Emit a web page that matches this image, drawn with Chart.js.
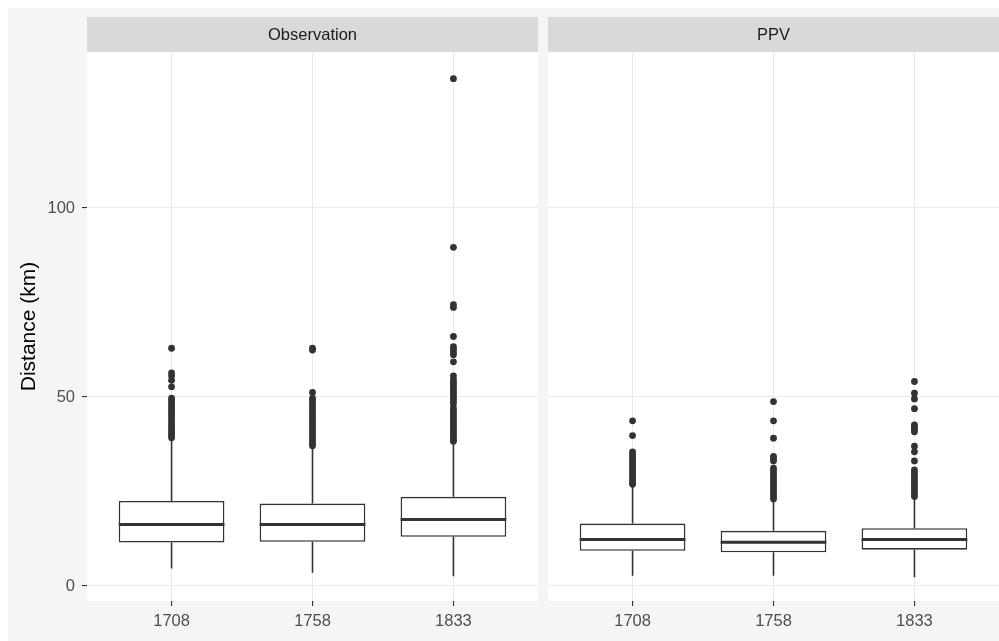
<!DOCTYPE html>
<html>
<head>
<meta charset="utf-8">
<title>Distance by year</title>
<script src="https://cdn.jsdelivr.net/npm/chart.js@4.4.0/dist/chart.umd.min.js"></script>
<style>
    html, body { margin: 0; padding: 0; background: #ffffff; }
    #page { position: relative; width: 999px; height: 641px; overflow: hidden; }
    #plotBg { position: absolute; left: 8px; top: 8px; right: 0; bottom: 0; background: #f5f5f5; }
    #chartObs { position: absolute; left: 0; top: 0; }
    #chartPpv { position: absolute; left: 540px; top: 0; }
</style>
</head>
<body>
<div id="page">
    <div id="plotBg"></div>
    <canvas id="chartObs" width="540" height="641"></canvas>
    <canvas id="chartPpv" width="459" height="641"></canvas>
</div>
<script>
const categories = ['1708', '1758', '1833'];
const panels = ['Observation', 'PPV'];
const yTicks = [0, 50, 100];

// Observation
const obsLow = [4.6, 3.5, 2.6];
const obsQ1 = [11.5, 11.7, 13.0];
const obsMedian = [16.3, 16.3, 17.6];
const obsQ3 = [22.5, 21.8, 23.6];
const obsHigh = [38.8, 36.4, 37.9];
const obsOutliers = [
    [62.9, 56.4, 55.6, 54.4, 52.7, 49.7, 49.0, 48.3, 47.5, 46.8, 46.1, 45.4, 44.7, 43.9, 43.2, 42.5, 41.8, 41.1, 40.4, 39.8, 39.2],
    [62.9, 62.4, 51.2, 49.7, 49.0, 48.3, 47.6, 46.8, 46.1, 45.4, 44.7, 44.0, 43.3, 42.6, 41.9, 41.2, 40.5, 39.8, 39.1, 38.4, 37.7, 37.1],
    [134.2, 89.6, 74.4, 73.7, 66.0, 63.3, 62.6, 61.9, 61.2, 59.3, 55.6, 54.6, 53.9, 53.2, 52.5, 51.8, 51.1, 50.4, 49.7, 49.0, 48.3,
        47.1, 46.4, 45.7, 45.0, 44.3, 43.6, 42.9, 42.2, 41.5, 40.8, 40.1, 39.4, 38.8, 38.3]
];

// PPV
const ppvLow = [2.7, 2.7, 2.3];
const ppvQ1 = [9.3, 8.9, 9.6];
const ppvMedian = [12.3, 11.6, 12.3];
const ppvQ3 = [16.5, 14.6, 15.3];
const ppvHigh = [26.7, 22.5, 23.2];
const ppvOutliers = [
    [43.7, 39.8, 35.5, 34.9, 34.2, 33.5, 32.8, 32.1, 31.4, 30.7, 30.0, 29.3, 28.6, 27.9, 27.3, 26.9],
    [48.8, 43.7, 39.1, 34.3, 33.6, 33.1, 31.2, 30.5, 29.8, 29.1, 28.4, 27.7, 27.0, 26.3, 25.6, 24.9, 24.2, 23.6, 23.0],
    [54.1, 51.0, 49.5, 46.9, 42.6, 42.0, 41.4, 40.8, 37.0, 35.5, 33.1, 30.7, 30.0, 29.3, 28.6, 27.9, 27.2, 26.5, 25.8, 25.1, 24.4, 23.7]
];

const INK = '#333333';
const BOX_HALF = 0.375; // half of ggplot's 0.75 box width, in category units

Chart.defaults.font.family = "'Liberation Sans', Arial, sans-serif";
Chart.defaults.animation = false;

// white panel + grey strip with the facet label
const facetPlugin = {
    id: 'facet_strip',
    beforeDraw: (chart, args, options) => {
        const { ctx, chartArea } = chart;
        ctx.save();
        ctx.fillStyle = '#ffffff';
        ctx.fillRect(chartArea.left, chartArea.top, chartArea.right - chartArea.left, chartArea.bottom - chartArea.top);
        ctx.fillStyle = '#d9d9d9';
        ctx.fillRect(chartArea.left, 17, chartArea.right - chartArea.left, chartArea.top - 17);
        ctx.fillStyle = '#1a1a1a';
        ctx.font = "16.5px 'Liberation Sans', Arial, sans-serif";
        ctx.textAlign = 'center';
        ctx.textBaseline = 'middle';
        ctx.fillText(options.label, (chartArea.left + chartArea.right) / 2, (17 + chartArea.top) / 2 + 1);
        ctx.restore();
    }
};

function boxDataset(q1, q3) {
    return {
        type: 'bar',
        data: q1.map((v, i) => ({ x: i, y: [v, q3[i]] })),
        backgroundColor: '#ffffff',
        borderColor: INK,
        borderWidth: 1.6,
        borderSkipped: false,
        grouped: false,
        categoryPercentage: 1,
        barPercentage: 0.75,
        order: 4
    };
}

function segmentDataset(points, width, order) {
    return {
        type: 'scatter',
        data: points,
        showLine: true,
        spanGaps: false,
        borderColor: INK,
        borderWidth: width,
        pointRadius: 0,
        order: order
    };
}

function whiskerPoints(low, q1, q3, high) {
    let pts = [];
    low.forEach((v, i) => {
        pts.push({ x: i, y: q3[i] }, { x: i, y: high[i] }, { x: i, y: null });
        pts.push({ x: i, y: q1[i] }, { x: i, y: v }, { x: i, y: null });
    });
    return pts;
}

function medianPoints(median) {
    let pts = [];
    median.forEach((v, i) => {
        pts.push({ x: i - BOX_HALF, y: v }, { x: i + BOX_HALF, y: v }, { x: i, y: null });
    });
    return pts;
}

function outlierDataset(outliers) {
    let pts = [];
    outliers.forEach((list, i) => {
        list.forEach(v => pts.push({ x: i, y: v }));
    });
    return {
        type: 'scatter',
        data: pts,
        pointRadius: 3.4,
        pointBorderWidth: 0,
        pointBackgroundColor: INK,
        order: 1
    };
}

function createPanel(selector, label, stats, showYAxis) {
    const ctx = document.getElementById(selector).getContext('2d');

    return new Chart(ctx, {
        type: 'scatter',
        data: {
            datasets: [
                outlierDataset(stats.outliers),
                segmentDataset(medianPoints(stats.median), 3, 2),
                segmentDataset(whiskerPoints(stats.low, stats.q1, stats.q3, stats.high), 1.6, 3),
                boxDataset(stats.q1, stats.q3)
            ]
        },
        options: {
            responsive: false,
            events: [],
            layout: {
                autoPadding: false,
                padding: showYAxis ? { left: 0, right: 2, top: 52, bottom: 0 } : { left: 8, right: 0, top: 52, bottom: 0 }
            },
            plugins: {
                legend: { display: false },
                tooltip: { enabled: false },
                facet_strip: { label: label }
            },
            scales: {
                x: {
                    type: 'linear',
                    min: -0.6,
                    max: 2.6,
                    offset: false,
                    afterBuildTicks: (scale) => {
                        scale.ticks = categories.map((c, i) => ({ value: i }));
                    },
                    afterFit: (scale) => {
                        scale.height = 40;
                        scale.paddingLeft = 0;
                        scale.paddingRight = 0;
                    },
                    border: { display: false },
                    grid: {
                        offset: false,
                        color: '#ebebeb',
                        lineWidth: 1.1,
                        tickColor: INK,
                        tickLength: 5,
                        tickWidth: 1.1
                    },
                    ticks: {
                        color: '#4d4d4d',
                        font: { size: 16.5 },
                        padding: 6,
                        maxRotation: 0,
                        autoSkip: false,
                        callback: (value) => categories[value]
                    }
                },
                y: {
                    type: 'linear',
                    min: -3.97,
                    max: 141.27,
                    afterBuildTicks: (scale) => {
                        scale.ticks = yTicks.map(v => ({ value: v }));
                    },
                    afterFit: (scale) => {
                        scale.width = showYAxis ? 87 : 0;
                        scale.paddingTop = 0;
                        scale.paddingBottom = 0;
                    },
                    border: { display: false },
                    grid: {
                        color: '#ebebeb',
                        lineWidth: 1.1,
                        drawTicks: showYAxis,
                        tickColor: INK,
                        tickLength: 5,
                        tickWidth: 1.1
                    },
                    ticks: {
                        display: showYAxis,
                        color: '#4d4d4d',
                        font: { size: 16.5 },
                        padding: 7
                    },
                    title: {
                        display: showYAxis,
                        text: 'Distance (km)',
                        color: '#000000',
                        font: { size: 21 },
                        padding: { top: 17, bottom: 0 }
                    }
                }
            }
        },
        plugins: [facetPlugin]
    });
}

createPanel('chartObs', panels[0], {
    low: obsLow, q1: obsQ1, median: obsMedian, q3: obsQ3, high: obsHigh, outliers: obsOutliers
}, true);

createPanel('chartPpv', panels[1], {
    low: ppvLow, q1: ppvQ1, median: ppvMedian, q3: ppvQ3, high: ppvHigh, outliers: ppvOutliers
}, false);
</script>
</body>
</html>
